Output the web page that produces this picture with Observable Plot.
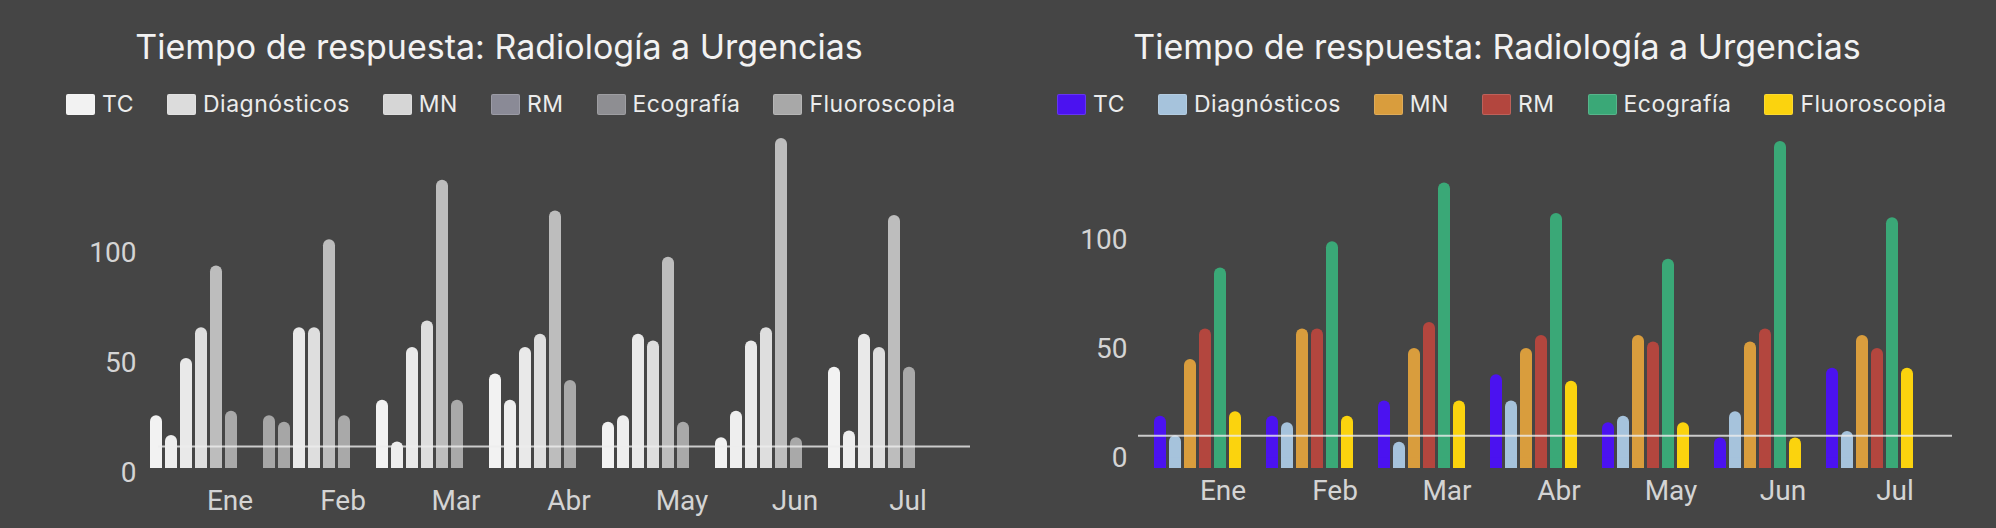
<!DOCTYPE html>
<html>
<head>
<meta charset="utf-8">
<script src="https://cdn.jsdelivr.net/npm/d3@7"></script>
<script src="https://cdn.jsdelivr.net/npm/@observablehq/plot@0.6"></script>
<style>
  html, body { margin: 0; padding: 0; background: #454545; }
  body { width: 1996px; height: 528px; position: relative; overflow: hidden; font-family: Inter, Roboto, "Noto Sans", sans-serif; }
  .panel { position: absolute; top: 0; width: 998px; height: 528px; }
  .title { position: absolute; top: 30px; left: 0; width: 998px; text-align: center; color: #f2f2f2; font-size: 34px; line-height: 34px; white-space: nowrap; }
  .legend { position: absolute; top: 93px; display: flex; align-items: center; color: #ececec; font-size: 23px; line-height: 23px; letter-spacing: 0.5px; white-space: nowrap; }
  .item { display: flex; align-items: center; margin-right: 33px; }
  .sw { width: 29px; height: 21px; margin-right: 7px; border-radius: 2px; box-sizing: border-box; border: 1px solid rgba(255,255,255,0.15); }
  .chart { position: absolute; top: 100px; left: 0; }
</style>
</head>
<body>
<script>
const meses = ["Ene", "Feb", "Mar", "Abr", "May", "Jun", "Jul"];
const series = ["TC", "Diagnósticos", "MN", "RM", "Ecografía", "Fluoroscopia"];
const tc = [24, 24, 31, 43, 21, 14, 46];
const diagnosticos = [15, 21, 12, 31, 24, 26, 17];
const mn = [50, 64, 55, 55, 61, 58, 61];
const rm = [64, 64, 67, 61, 58, 64, 55];
const ecografia = [92, 104, 131, 117, 96, 150, 115];
const fluoroscopia = [26, 24, 31, 40, 21, 14, 46];
const objetivoIzq = 10;
const objetivoDer = 15;
const titulo = "Tiempo de respuesta: Radiología a Urgencias";

const coloresSeries = ["#4b12f0", "#a6c3dc", "#d99d3d", "#b3463e", "#3aa877", "#fbd30e"];
const grisesBarras = ["#f2f2f2", "#eeeeee", "#e9e9e9", "#dedede", "#bdbdbd", "#a9a9a9"];
const grisesLeyenda = ["#f2f2f2", "#dcdcdc", "#d6d6d6", "#8a8a96", "#8e8e92", "#a8a8a8"];

const valores = [tc, diagnosticos, mn, rm, ecografia, fluoroscopia];
const filas = meses.flatMap((m, i) => series.map((s, j) => ({mes: m, serie: s, valor: valores[j][i]})));

function panel(cfg) {
  const div = document.createElement("div");
  div.className = "panel";
  div.style.left = cfg.left + "px";
  const t = document.createElement("div");
  t.className = "title";
  t.textContent = titulo;
  div.appendChild(t);
  const lg = document.createElement("div");
  lg.className = "legend";
  lg.style.left = cfg.legendLeft + "px";
  series.forEach((s, j) => {
    const it = document.createElement("div");
    it.className = "item";
    const sw = document.createElement("span");
    sw.className = "sw";
    sw.style.background = cfg.legendColors[j];
    const tx = document.createElement("span");
    tx.textContent = s;
    it.appendChild(sw); it.appendChild(tx);
    lg.appendChild(it);
  });
  div.appendChild(lg);

  const base = 368;
  const common = {
    width: 998,
    height: 420,
    marginLeft: cfg.ml,
    marginRight: cfg.mr,
    marginTop: base - 150 * cfg.k,
    marginBottom: 420 - base,
    style: {background: "transparent", color: "#d4d4d4", fontFamily: "Roboto, sans-serif", fontSize: "28px", overflow: "visible"},
    y: {domain: [0, 150], axis: null}
  };
  const svg = Plot.plot({
    ...common,
    fx: {domain: meses, paddingInner: cfg.fxPad, paddingOuter: 0, label: null},
    x: {domain: series, paddingInner: 0.22, paddingOuter: 0, axis: null},
    color: cfg.color,
    marks: [
      Plot.barY(filas, {fx: "mes", x: "serie", y: "valor", fill: cfg.fill, rx: 6}),
      Plot.barY(filas, {fx: "mes", x: "serie", y: d => Math.min(d.valor, 5), fill: cfg.fill}),
      Plot.axisY({ticks: [0, 50, 100], tickSize: 0, tickPadding: cfg.yPad, dy: cfg.yDy, label: null}),
      Plot.axisFx({anchor: "bottom", tickSize: 0, tickPadding: cfg.fxTickPad, dx: cfg.fxDx, label: null})
    ]
  });
  svg.classList.add("chart");
  div.appendChild(svg);
  const overlay = Plot.plot({
    ...common,
    x: {axis: null},
    marks: [
      Plot.ruleY([cfg.objetivo], {stroke: "#ececec", strokeWidth: 2, strokeOpacity: 0.8, insetLeft: cfg.ruleL, insetRight: cfg.ruleR})
    ]
  });
  overlay.classList.add("chart");
  div.appendChild(overlay);
  document.body.appendChild(div);
}

panel({
  left: 0, legendLeft: 66, legendColors: grisesLeyenda,
  ml: 146, mr: 79, k: 2.2, fxPad: 0.219,
  color: {type: "identity"},
  fill: d => (d.mes === "Feb" && (d.serie === "TC" || d.serie === "Diagnósticos")) ? "#a6a6a6" : grisesBarras[series.indexOf(d.serie)],
  objetivo: objetivoIzq, ruleL: 12, ruleR: -51,
  yPad: 13, yDy: 5, fxTickPad: 22, fxDx: 36.5
});
panel({
  left: 998, legendLeft: 59, legendColors: coloresSeries,
  ml: 152, mr: 79, k: 2.18, fxPad: 0.212,
  color: {domain: series, range: coloresSeries},
  fill: "serie",
  objetivo: objetivoDer, ruleL: -12, ruleR: -35,
  yPad: 26, yDy: -10, fxTickPad: 12, fxDx: 25.5
});
</script>
</body>
</html>
